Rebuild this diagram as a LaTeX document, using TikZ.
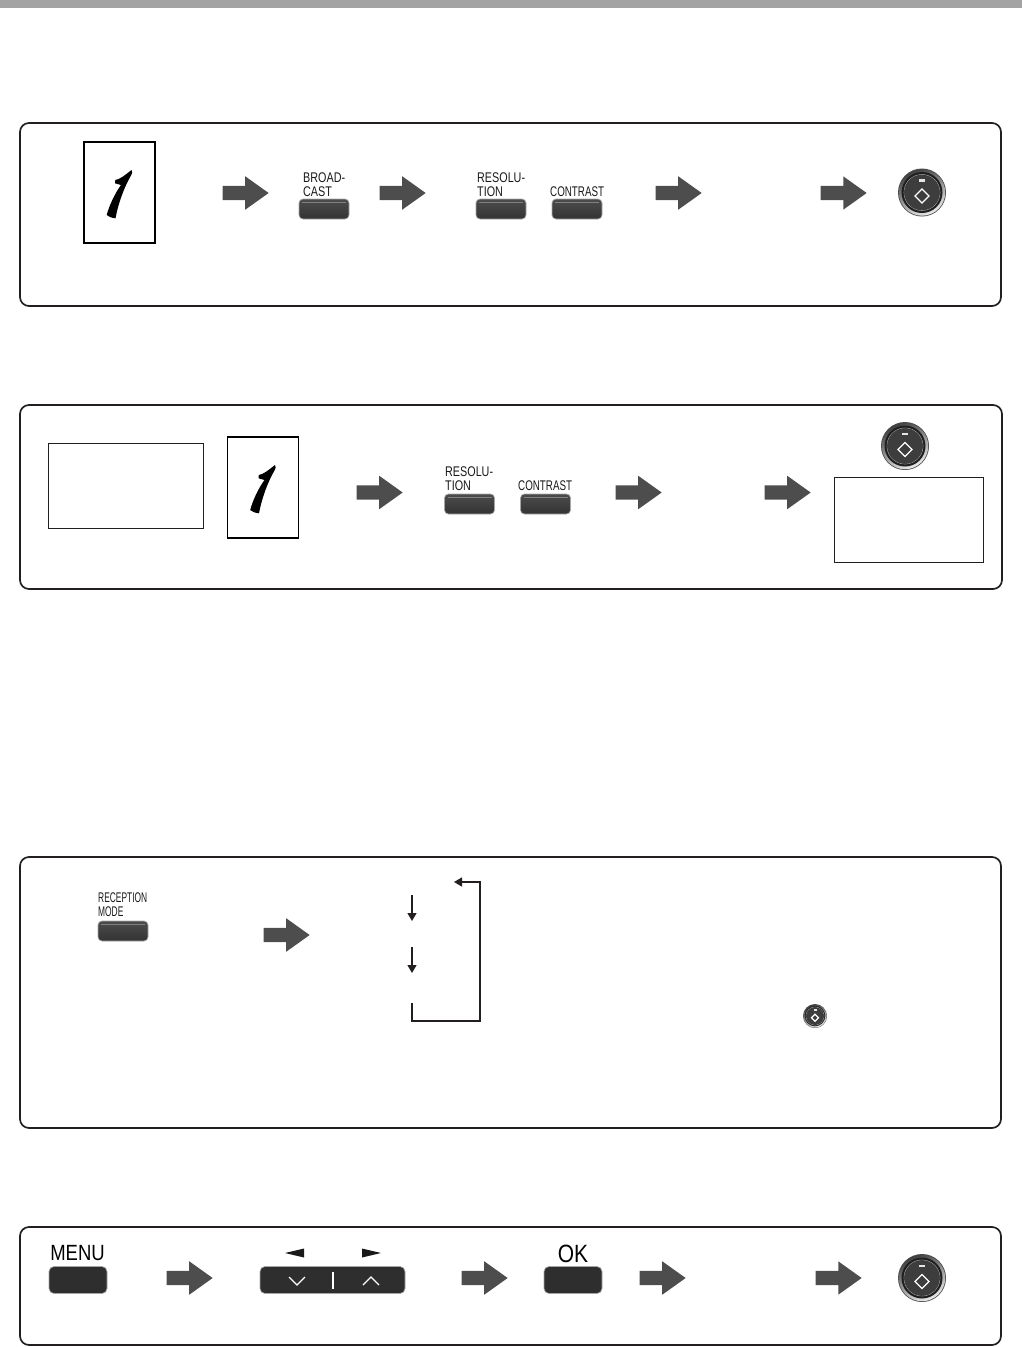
\documentclass[tikz,border=0pt]{standalone}
\usepackage{fontspec}
\usetikzlibrary{arrows.meta,shapes.arrows}
\newfontfamily\keyfont[FakeStretch=0.77]{Liberation Sans}
\newfontfamily\keyfontnarrow[FakeStretch=0.7]{Liberation Sans}
\newfontfamily\keyfonttight[FakeStretch=0.6]{Liberation Sans}
\newfontfamily\menufont[FakeStretch=0.84]{Liberation Sans}
\definecolor{framecol}{HTML}{231F20}
\definecolor{barcol}{HTML}{A3A3A3}
\definecolor{arrowcol}{HTML}{4D4D4D}
\tikzset{
  panel/.style={draw=framecol, line width=1.7pt, rounded corners=9pt},
  infobox/.style={draw=framecol, line width=.6pt},
  sheet/.style={draw=black, line width=1.1pt, minimum width=71pt, minimum height=101pt, inner sep=0pt},
  keybtn/.style={draw=black!35, line width=.7pt, rounded corners=4pt, top color=black!70, bottom color=black!80, minimum width=50pt, minimum height=20pt, inner sep=0pt,
    path picture={\draw[black!50, line width=.8pt] ([xshift=3pt,yshift=-3pt]path picture bounding box.north west) -- ([xshift=-3pt,yshift=-3pt]path picture bounding box.north east);}},
  flatbtn/.style={draw=black!35, line width=.7pt, rounded corners=5pt, fill=black!82, minimum height=27pt, inner sep=0pt},
  keylabel/.style={inner sep=0pt, align=left, font=\keyfont\fontsize{14}{14}\selectfont, text=black!90},
  conlabel/.style={keylabel, font=\keyfontnarrow\fontsize{14}{14}\selectfont},
  reclabel/.style={keylabel, font=\keyfonttight\fontsize{14}{14}\selectfont},
  biglabel/.style={inner sep=0pt, font=\menufont\fontsize{22}{22}\selectfont, text=black},
  oklabel/.style={biglabel, font=\menufont\fontsize{25}{25}\selectfont},
  bigarrow/.style={single arrow, anchor=tip, fill=arrowcol, minimum height=46pt, minimum width=33pt, single arrow head extend=9.5pt, single arrow tip angle=71, single arrow head indent=0pt, inner xsep=0pt, inner ysep=7pt},
  flow/.style={draw=framecol, line width=1.3pt, -{Triangle[width=9pt,length=8pt]}},
  sheetone/.pic={
    \fill[black] (12,-22.5) .. controls (13.5,-21) and (12.5,-19) .. (11.5,-17)
      .. controls (5,-6) and (-1,10) .. (-4,25.8)
      .. controls (-8,25.5) and (-11,24) .. (-12.8,22.5)
      .. controls (-10,12) and (-4,0) .. (1.5,-7.5)
      -- (-4.5,-9.2) -- (-4.2,-12.5)
      .. controls (0,-13) and (5,-17) .. (12,-22.5) -- cycle;
  },
  startkey/.pic={
    \fill[black!70] (0,0) circle (24);
    \shade[top color=black!75, bottom color=black!8, shading angle=25] (0,0) circle (23.2);
    \fill[black!88] (0,0) circle (20.5);
    \draw[black!35, line width=.6pt] (0,0) circle (18);
    \fill[black!76] (0,0) circle (17.7);
    \draw[white, line width=1.3pt] (-7,3.5) -- (0,-3.5) -- (7,3.5) -- (0,10.5) -- cycle;
    \fill[black!10] (-3,-13.5) rectangle (3,-11);
  },
  x=1pt, y=-1pt
}
\begin{document}
\begin{tikzpicture}
  \useasboundingbox (0,0) rectangle (1022,1347);
  \fill[barcol] (0,0) rectangle (1022,8);
  % first panel
  \draw[panel] (20,123) rectangle (1001,306);
  \node[sheet] (sheetA) at (119.5,192.5) {};
  \pic at (sheetA) {sheetone};
  \node[bigarrow] (arrowA1) at (269,193) {};
  \node[keylabel, anchor=north west] (labelBroad) at (303,173) {BROAD-\\CAST};
  \node[keybtn] (keyBroad) at (324,209) {};
  \node[bigarrow] (arrowA2) at (426,193) {};
  \node[keylabel, anchor=north west] (labelResA) at (477,173) {RESOLU-\\TION};
  \node[keybtn] (keyResA) at (501,209) {};
  \node[conlabel, anchor=north west] (labelConA) at (550,186.5) {CONTRAST};
  \node[keybtn] (keyConA) at (577,209) {};
  \node[bigarrow] (arrowA3) at (702,193) {};
  \node[bigarrow] (arrowA4) at (867,193) {};
  \pic at (922,192.5) {startkey};
  % second panel
  \draw[panel] (20,405) rectangle (1002,589);
  \draw[infobox] (48,443) rectangle (203.5,528);
  \node[sheet] (sheetB) at (263,487.5) {};
  \pic at (sheetB) {sheetone};
  \node[bigarrow] (arrowB1) at (403,492.5) {};
  \node[keylabel, anchor=north west] (labelResB) at (445,467) {RESOLU-\\TION};
  \node[keybtn] (keyResB) at (469.5,504) {};
  \node[conlabel, anchor=north west] (labelConB) at (518,480.5) {CONTRAST};
  \node[keybtn] (keyConB) at (545.5,504) {};
  \node[bigarrow] (arrowB2) at (662,492.5) {};
  \node[bigarrow] (arrowB3) at (811,492.5) {};
  \pic at (905,446) {startkey};
  \draw[infobox] (834,477) rectangle (983.5,562);
  % third panel
  \draw[panel] (20,857) rectangle (1001,1128);
  \node[reclabel, anchor=north west] (labelRecep) at (98,893) {RECEPTION\\MODE};
  \node[keybtn] (keyRecep) at (123,931) {};
  \node[bigarrow] (arrowC1) at (310,935) {};
  \coordinate (modeA) at (412,895);
  \coordinate (modeB) at (412,921);
  \coordinate (modeC) at (412,947);
  \coordinate (modeD) at (412,973);
  \coordinate (modeE) at (412,1003);
  \coordinate (modeF) at (454,882);
  \draw[flow] (modeA) -- (modeB);
  \draw[flow] (modeC) -- (modeD);
  \draw[flow] (modeE) |- (480,1021) |- (modeF);
  \pic[scale=.5] at (815,1016) {startkey};
  % fourth panel
  \draw[panel] (20,1227) rectangle (1001,1345);
  \node[biglabel] (labelMenu) at (77.5,1253.5) {MENU};
  \node[flatbtn, minimum width=58pt] (keyMenu) at (78,1280) {};
  \node[bigarrow] (arrowD1) at (213,1278) {};
  \fill[black!90] (285,1253) -- (304,1248.5) -- (304,1257.5) -- cycle;
  \fill[black!90] (381,1253) -- (362,1248.5) -- (362,1257.5) -- cycle;
  \node[flatbtn, minimum width=145pt] (keyArrows) at (332.5,1280) {};
  \draw[white, line width=1.1pt] (289,1277) -- (297,1285) -- (305,1277);
  \draw[white, line width=1.1pt] (363,1285) -- (371,1277) -- (379,1285);
  \draw[white, line width=1.1pt] (333,1272) -- (333,1289);
  \node[bigarrow] (arrowD2) at (508,1278) {};
  \node[oklabel] (labelOk) at (573,1253.5) {OK};
  \node[flatbtn, minimum width=58pt] (keyOk) at (573,1280) {};
  \node[bigarrow] (arrowD3) at (686,1278) {};
  \node[bigarrow] (arrowD4) at (862,1278) {};
  \pic at (922,1278) {startkey};
\end{tikzpicture}
\end{document}
